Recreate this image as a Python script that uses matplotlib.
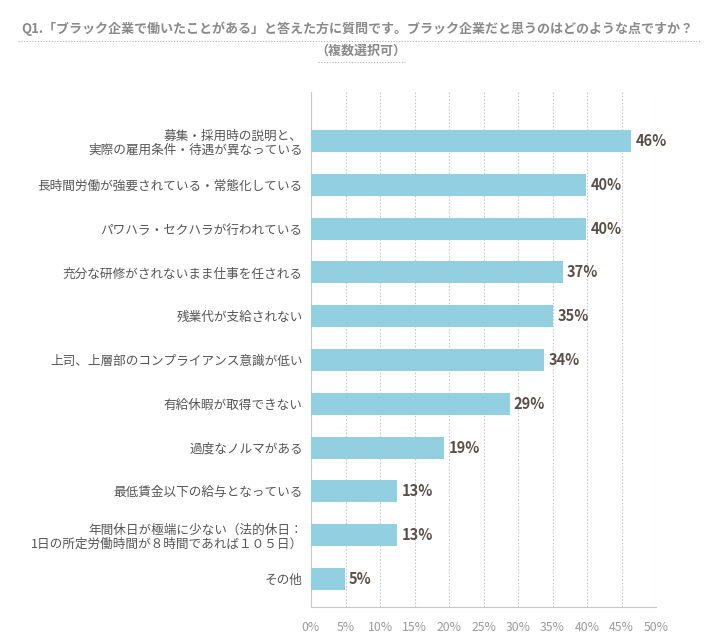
import numpy as np
import matplotlib.pyplot as plt
from matplotlib.lines import Line2D

plt.rcParams['font.family'] = ['Noto Sans CJK JP', 'DejaVu Sans']

# data
categories = [
    "募集・採用時の説明と、\n実際の雇用条件・待遇が異なっている",
    "長時間労働が強要されている・常態化している",
    "パワハラ・セクハラが行われている",
    "充分な研修がされないまま仕事を任される",
    "残業代が支給されない",
    "上司、上層部のコンプライアンス意識が低い",
    "有給休暇が取得できない",
    "過度なノルマがある",
    "最低賃金以下の給与となっている",
    "年間休日が極端に少ない（法的休日：\n1日の所定労働時間が８時間であれば１０５日）",
    "その他",
]
values = [46.4, 39.9, 39.9, 36.5, 35.1, 33.8, 28.8, 19.3, 12.5, 12.5, 4.9]
value_labels = ["46%", "40%", "40%", "37%", "35%", "34%", "29%", "19%", "13%", "13%", "5%"]
xticks = [0, 5, 10, 15, 20, 25, 30, 35, 40, 45, 50]

fig = plt.figure(figsize=(7.14, 6.39), dpi=100)
ax = fig.add_axes([311/714, 32/639, 345/714, 515/639])

y = np.arange(len(categories))
ax.barh(y, values, height=0.5, color='#92d0e1', zorder=3)

for yi, v, lab in zip(y, values, value_labels):
    ax.text(v + 0.6, yi, lab, va='center', ha='left', fontsize=10.5,
            fontweight='bold', color='#5b4f49', zorder=4)

ax.set_xlim(0, 50)
ax.set_ylim(10.64, -1.12)
ax.set_yticks(y)
ax.set_yticklabels(categories, fontsize=9.1, color='#555555', linespacing=1.1)
ax.set_xticks(xticks)
ax.set_xticklabels([f"{t}%" for t in xticks], fontsize=8.8, color='#9a9a9a')
ax.tick_params(axis='both', length=0)
ax.tick_params(axis='y', pad=6)
ax.tick_params(axis='x', pad=10)

for t in xticks[1:]:
    ax.axvline(t, color='#c8c8c8', linestyle=(0, (1.5, 1.5)), linewidth=0.8, zorder=1)

for s in ['top', 'right']:
    ax.spines[s].set_visible(False)
ax.spines['left'].set_color('#c8c8c8')
ax.spines['bottom'].set_color('#c8c8c8')

# title with dotted underlines
fig.text(0.5, 1 - 29/639,
         "Q1.「ブラック企業で働いたことがある」と答えた方に質問です。ブラック企業だと思うのはどのような点ですか？",
         ha='center', va='center', fontsize=9.4, color='#8a8a8a', fontweight='bold')
fig.text(361/714, 1 - 51/639, "（複数選択可）", ha='center', va='center',
         fontsize=9.4, color='#8a8a8a', fontweight='bold')
fig.add_artist(Line2D([18/714, 700/714], [1 - 41/639, 1 - 41/639], color='#b5b5b5',
                      linestyle=(0, (1, 1.5)), linewidth=0.8))
fig.add_artist(Line2D([318/714, 405/714], [1 - 62/639, 1 - 62/639], color='#b5b5b5',
                      linestyle=(0, (1, 1.5)), linewidth=0.8))

fig.savefig('out.png', dpi=100)
